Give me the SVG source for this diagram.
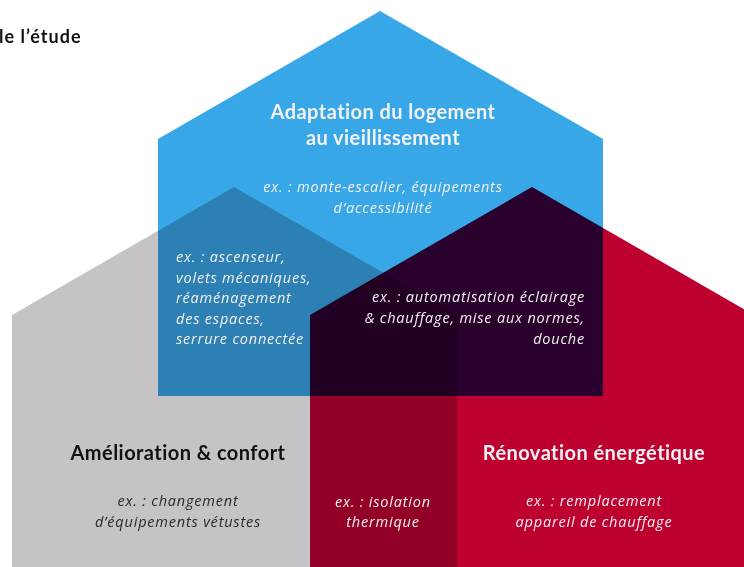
<svg xmlns="http://www.w3.org/2000/svg" width="744" height="567" viewBox="0 0 744 567">
  <style>
    .house { mix-blend-mode: multiply; }
    .title { font-family: "Lato", "Liberation Sans", sans-serif; font-weight: 700; font-size: 20px; letter-spacing: 0.45px; }
    .ex { font-family: "Open Sans", "Liberation Sans", sans-serif; font-style: italic; font-size: 14.5px; letter-spacing: 0.8px; }
    .light { fill: #f4f1f3; }
    .dark { fill: #111111; }
    .dark-ex { fill: #2a2a2a; }
    .mid { text-anchor: middle; }
    .end { text-anchor: end; }
  </style>

  <rect width="744" height="567" fill="#ffffff"/>

  <!-- heading fragment, cut at the left edge -->
  <text x="-1" y="43" class="title dark" style="font-size:18px;letter-spacing:1px">le l’étude</text>

  <!-- three overlapping houses; overlaps come from multiply blending -->
  <g id="houses" style="isolation:isolate">
    <g id="house-confort">
      <polygon class="house" fill="#c6c3c6" points="12,315 234,187 457,315 457,567 12,567"/>
    </g>
    <g id="house-renovation">
      <polygon class="house" fill="#bd0030" points="310,315 532,187 754,315 754,567 310,567"/>
    </g>
    <g id="house-adaptation">
      <polygon class="house" fill="#38a7e7" points="158,139 380,11 603,139 603,396 158,396"/>
    </g>
  </g>

  <!-- labels -->
  <g id="label-adaptation">
    <text x="383" y="119" class="title light mid">Adaptation du logement</text>
    <text x="383" y="145" class="title light mid">au vieillissement</text>
    <text x="383" y="192" class="ex light mid">ex. : monte-escalier, équipements</text>
    <text x="383" y="213" class="ex light mid">d’accessibilité</text>
  </g>

  <g id="label-adaptation-confort">
    <text x="176" y="262" class="ex light">ex. : ascenseur,</text>
    <text x="176" y="283" class="ex light">volets mécaniques,</text>
    <text x="176" y="303" class="ex light">réaménagement</text>
    <text x="176" y="324" class="ex light">des espaces,</text>
    <text x="176" y="344" class="ex light">serrure connectée</text>
  </g>

  <g id="label-adaptation-renovation">
    <text x="585" y="302" class="ex light end">ex. : automatisation éclairage</text>
    <text x="585" y="323" class="ex light end">&amp; chauffage, mise aux normes,</text>
    <text x="585" y="344" class="ex light end">douche</text>
  </g>

  <g id="label-confort">
    <text x="178" y="460" class="title dark mid">Amélioration &amp; confort</text>
    <text x="178" y="506" class="ex dark-ex mid">ex. : changement</text>
    <text x="178" y="527" class="ex dark-ex mid">d’équipements vétustes</text>
  </g>

  <g id="label-confort-renovation">
    <text x="383" y="507" class="ex light mid">ex. : isolation</text>
    <text x="383" y="527" class="ex light mid">thermique</text>
  </g>

  <g id="label-renovation">
    <text x="594" y="460" class="title light mid">Rénovation énergétique</text>
    <text x="594" y="506" class="ex light mid">ex. : remplacement</text>
    <text x="594" y="527" class="ex light mid">appareil de chauffage</text>
  </g>
</svg>
